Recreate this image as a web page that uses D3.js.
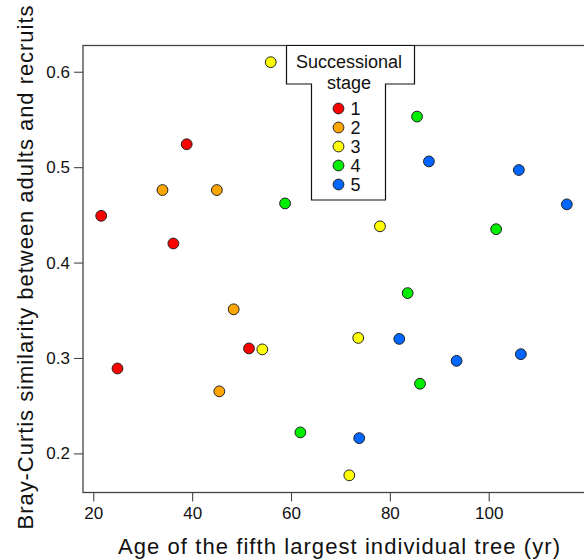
<!DOCTYPE html>
<html>
<head>
<meta charset="utf-8">
<script src="https://cdn.jsdelivr.net/npm/d3@7"></script>
<style>
  body { margin: 0; background: #fff; }
  svg { display: block; font-family: "Liberation Sans", Arial, sans-serif; }
</style>
</head>
<body>
<svg width="584" height="560"></svg>
<script>
var svg = d3.select("svg"),
    width = +svg.attr("width"),
    height = +svg.attr("height");

// data, one array per successional stage
var stages = ["1", "2", "3", "4", "5"];
var stageColors = ["#ff0000", "#ffa500", "#ffff00", "#00ee00", "#0066ff"];

var age1 = [21.6, 24.9, 36.2, 38.9, 51.5];
var sim1 = [0.449, 0.289, 0.420, 0.524, 0.310];
var age2 = [34.0, 45.0, 48.4, 45.5];
var sim2 = [0.476, 0.476, 0.351, 0.265];
var age3 = [55.9, 54.2, 73.6, 78.0, 71.8];
var sim3 = [0.610, 0.309, 0.321, 0.438, 0.177];
var age4 = [58.8, 85.5, 83.6, 86.1, 61.9, 101.5];
var sim4 = [0.462, 0.553, 0.368, 0.273, 0.222, 0.435];
var age5 = [87.9, 106.1, 115.8, 81.9, 93.5, 106.5, 73.8];
var sim5 = [0.506, 0.497, 0.461, 0.320, 0.297, 0.304, 0.216];

var xTicks = [20, 40, 60, 80, 100];
var yTicks = [0.2, 0.3, 0.4, 0.5, 0.6];

var ages = [age1, age2, age3, age4, age5];
var sims = [sim1, sim2, sim3, sim4, sim5];
var points = [];
stages.forEach(function(s, i) {
    ages[i].forEach(function(a, j) {
        points.push({stage: s, age: a, sim: sims[i][j]});
    });
});

var margin = {left: 83, right: -11, top: 45.5, bottom: 67.5};
var plotW = width - margin.left - margin.right,
    plotH = height - margin.top - margin.bottom;

var x = d3.scaleLinear().domain([17.92, 121.5]).range([margin.left, margin.left + plotW]);
var y = d3.scaleLinear().domain([0.159, 0.6275]).range([margin.top + plotH, margin.top]);
var color = d3.scaleOrdinal().domain(stages).range(stageColors);

// frame
svg.append("rect")
    .attr("x", margin.left)
    .attr("y", margin.top)
    .attr("width", plotW)
    .attr("height", plotH)
    .attr("fill", "none")
    .attr("stroke", "#444")
    .attr("stroke-width", 1.3);

// axes
var xAxis = svg.append("g")
    .attr("transform", "translate(0," + (margin.top + plotH) + ")")
    .call(d3.axisBottom(x).tickValues(xTicks).tickSize(9).tickPadding(5).tickSizeOuter(0));
var yAxis = svg.append("g")
    .attr("transform", "translate(" + margin.left + ",0)")
    .call(d3.axisLeft(y).tickValues(yTicks).tickSize(9).tickPadding(4).tickFormat(d3.format(".1f")).tickSizeOuter(0));

[xAxis, yAxis].forEach(function(g) {
    g.select(".domain").remove();
    g.selectAll("line").attr("stroke", "#444").attr("stroke-width", 1.1);
    g.selectAll("text").attr("fill", "#111").style("font-size", "17px").style("font-family", "Liberation Sans, Arial, sans-serif");
});

// axis titles (reference glyphs are spaced wider than Liberation Sans)
svg.append("text")
    .attr("x", 339)
    .attr("y", 554)
    .attr("text-anchor", "middle")
    .attr("textLength", 442)
    .attr("lengthAdjust", "spacing")
    .style("font-size", "22px")
    .attr("fill", "#111")
    .text("Age of the fifth largest individual tree (yr)");

svg.append("text")
    .attr("transform", "translate(33,267.5) rotate(-90)")
    .attr("text-anchor", "middle")
    .attr("textLength", 524)
    .attr("lengthAdjust", "spacing")
    .style("font-size", "22px")
    .attr("fill", "#111")
    .text("Bray-Curtis similarity between adults and recruits");

// points
svg.append("g")
    .selectAll("circle")
    .data(points)
    .enter().append("circle")
        .attr("cx", function(d) { return x(d.age); })
        .attr("cy", function(d) { return y(d.sim); })
        .attr("r", 5.4)
        .attr("fill", function(d) { return color(d.stage); })
        .attr("stroke", "#222")
        .attr("stroke-width", 1);

// legend (T-shaped box)
var leg = svg.append("g");
leg.append("path")
    .attr("d", "M286.5,45.5 H414.5 V84 H385.5 V200 H311.5 V84 H286.5 Z")
    .attr("fill", "#fff")
    .attr("stroke", "#111")
    .attr("stroke-width", 1.2);

leg.append("text")
    .attr("x", 349)
    .attr("y", 68)
    .attr("text-anchor", "middle")
    .style("font-size", "18px")
    .attr("fill", "#111")
    .text("Successional");
leg.append("text")
    .attr("x", 349)
    .attr("y", 89)
    .attr("text-anchor", "middle")
    .style("font-size", "18px")
    .attr("fill", "#111")
    .text("stage");

var item = leg.selectAll(".item")
    .data(stages)
    .enter().append("g")
        .attr("class", "item")
        .attr("transform", function(d, i) { return "translate(338.5," + (108.5 + i * 19) + ")"; });
item.append("circle")
    .attr("r", 5.4)
    .attr("fill", function(d) { return color(d); })
    .attr("stroke", "#222")
    .attr("stroke-width", 1);
item.append("text")
    .attr("x", 12)
    .attr("dy", "0.36em")
    .style("font-size", "18px")
    .attr("fill", "#111")
    .text(function(d) { return d; });
</script>
</body>
</html>
